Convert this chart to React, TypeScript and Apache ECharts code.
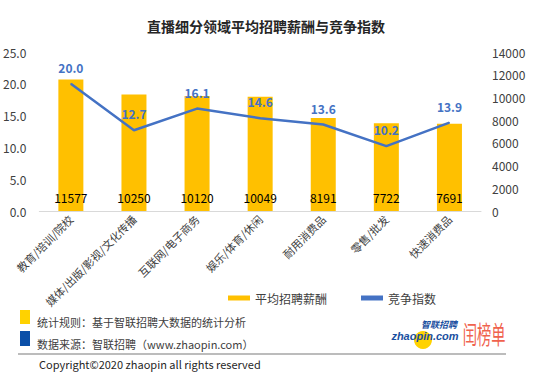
import React, { useEffect, useRef } from "react";
import * as echarts from "echarts";

const categories = ["教育/培训/院校", "媒体/出版/影视/文化传播", "互联网/电子商务", "娱乐/体育/休闲", "耐用消费品", "零售/批发", "快速消费品"];
const salary = [11577, 10250, 10120, 10049, 8191, 7722, 7691];
const competition = [20.0, 12.7, 16.1, 14.6, 13.6, 10.2, 13.9];

const titleText = "直播细分领域平均招聘薪酬与竞争指数";
const salaryName = "平均招聘薪酬";
const competitionName = "竞争指数";
const ruleText = "统计规则：基于智联招聘大数据的统计分析";
const sourceText = "数据来源：智联招聘（www.zhaopin.com）";
const copyrightText = "Copyright©2020 zhaopin all rights reserved";

const FONT = "'Noto Sans CJK SC', 'Noto Sans', sans-serif";

export default function App() {
  const ref = useRef<HTMLDivElement>(null);
  useEffect(() => {
    if (!ref.current) return;
    const chart = echarts.init(ref.current, null, { renderer: "svg" });
    chart.setOption({
      animation: false,
      backgroundColor: "#ffffff",
      textStyle: { fontFamily: FONT },
      title: {
        text: titleText,
        left: 261,
        textAlign: "center",
        top: 14,
        textStyle: { fontSize: 14, fontWeight: "bold", color: "#262626", fontFamily: FONT },
      },
      legend: {
        left: 223,
        top: 287,
        itemGap: 34,
        itemWidth: 22,
        itemHeight: 5,
        textStyle: { fontSize: 12, color: "#404040", fontFamily: FONT },
        data: [
          { name: salaryName, icon: "rect" },
          { name: competitionName, icon: "rect" },
        ],
      },
      grid: { left: 35, right: 69, top: 52, bottom: 177 },
      xAxis: {
        type: "category",
        data: categories,
        axisTick: { show: false },
        axisLine: { lineStyle: { color: "#d9d9d9", width: 1 } },
        axisLabel: { rotate: 45, fontSize: 11, color: "#404040", margin: 6, interval: 0, fontFamily: FONT },
      },
      yAxis: [
        {
          type: "value",
          min: 0,
          max: 25,
          interval: 5,
          splitLine: { show: false },
          axisLine: { show: false },
          axisTick: { show: false },
          axisLabel: { formatter: (v: number) => v.toFixed(1), fontSize: 12, color: "#404040", margin: 13, fontFamily: FONT },
        },
        {
          type: "value",
          min: 0,
          max: 14000,
          interval: 2000,
          splitLine: { show: false },
          axisLine: { show: false },
          axisTick: { show: false },
          axisLabel: { formatter: (v: number) => String(v), fontSize: 12, color: "#404040", margin: 11, fontFamily: FONT },
        },
      ],
      series: [
        {
          name: salaryName,
          type: "bar",
          yAxisIndex: 1,
          data: salary,
          barWidth: 25,
          itemStyle: { color: "#FFC000" },
          label: {
            show: true,
            position: "insideBottom",
            distance: 8,
            color: "#000000",
            fontSize: 12,
            fontFamily: FONT,
          },
        },
        {
          name: competitionName,
          type: "line",
          yAxisIndex: 0,
          data: competition,
          symbol: "circle",
          symbolSize: 1,
          lineStyle: { color: "#4472C4", width: 2.5 },
          itemStyle: { color: "#4472C4" },
          label: {
            show: true,
            position: "top",
            distance: 10,
            color: "#4472C4",
            fontWeight: "bold",
            fontSize: 12,
            formatter: (p: any) => Number(p.value).toFixed(1),
            fontFamily: FONT,
          },
        },
      ],
      graphic: [
        { type: "rect", shape: { x: 20, y: 310, width: 10, height: 14 }, style: { fill: "#FFD200" } },
        { type: "rect", shape: { x: 20, y: 331, width: 10, height: 15 }, style: { fill: "#0B4FA8" } },
        { type: "text", x: 37, y: 322, style: { text: ruleText, fontSize: 11, fill: "#404040", textVerticalAlign: "middle", fontFamily: FONT } },
        { type: "text", x: 37, y: 344, style: { text: sourceText, fontSize: 11, fill: "#404040", textVerticalAlign: "middle", fontFamily: FONT } },
        { type: "line", shape: { x1: 18, y1: 354, x2: 506, y2: 354 }, style: { stroke: "#a6a6a6", lineWidth: 1.5 } },
        { type: "text", x: 39, y: 364, style: { text: copyrightText, fontSize: 11, fill: "#262626", textVerticalAlign: "middle", fontFamily: FONT } },
        { type: "circle", shape: { cx: 423, cy: 340, r: 9 }, style: { fill: "#FFD200" } },
        { type: "text", x: 425, y: 336, style: { text: "zhaopin.com", fontSize: 11, fontWeight: "bold", fontStyle: "italic", fill: "#1A4FA0", textAlign: "center", textVerticalAlign: "middle", fontFamily: "'Liberation Sans', Arial, sans-serif" } },
        { type: "text", x: 439, y: 324, style: { text: "智联招聘", fontSize: 9, fontWeight: "bold", fontStyle: "italic", fill: "#1A4FA0", textAlign: "center", textVerticalAlign: "middle", fontFamily: FONT } },
        { type: "text", x: 484, y: 333, scaleX: 0.95, scaleY: 1.7, style: { text: "闰榜单", fontSize: 15, fill: "#F0624D", textAlign: "center", textVerticalAlign: "middle", fontFamily: FONT } },
      ],
    });
    return () => chart.dispose();
  }, []);
  return <div ref={ref} style={{ position: "fixed", left: 0, top: 0, width: 550, height: 388 }} />;
}
